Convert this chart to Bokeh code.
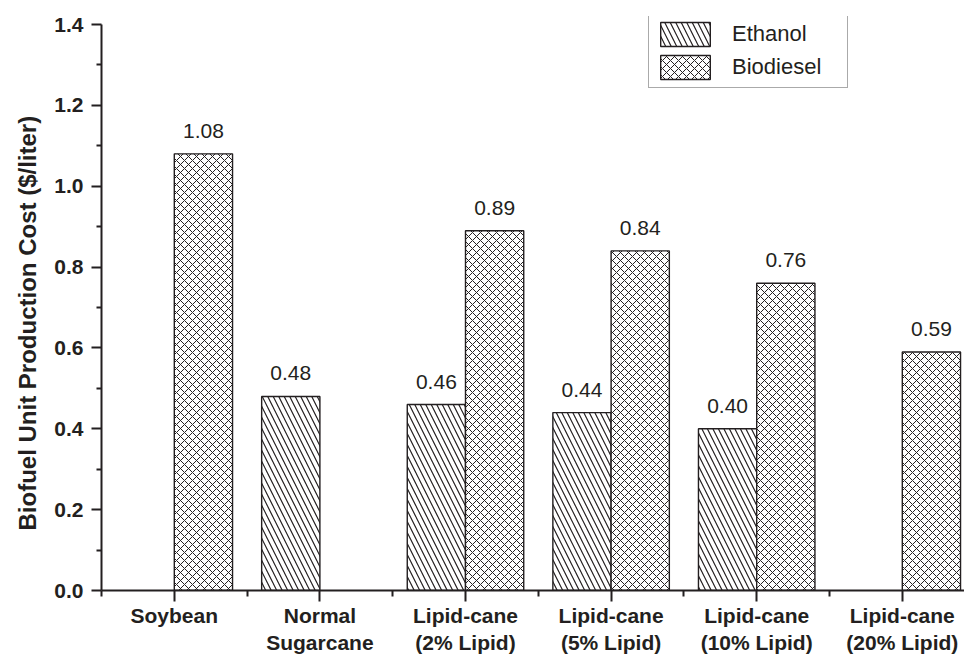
from bokeh.plotting import figure
from bokeh.models import FixedTicker, Legend, LegendItem, ColumnDataSource, Range1d, Title
from bokeh.embed import file_html
from bokeh.resources import INLINE
from bokeh.core.properties import value

categories = ["Soybean", "Normal\nSugarcane", "Lipid-cane\n(2% Lipid)", "Lipid-cane\n(5% Lipid)",
              "Lipid-cane\n(10% Lipid)", "Lipid-cane\n(20% Lipid)"]
ethanol = [None, 0.48, 0.46, 0.44, 0.40, None]
biodiesel = [1.08, None, 0.89, 0.84, 0.76, 0.59]
y_ticks = [0.0, 0.2, 0.4, 0.6, 0.8, 1.0, 1.2, 1.4]
y_tick_labels = ["0.0", "0.2", "0.4", "0.6", "0.8", "1.0", "1.2", "1.4"]
y_label = "Biofuel Unit Production Cost ($/liter)"

FONT = "Liberation Sans"
INK = "#231f20"

W, H = 964, 657
LEFT, TOP, BOTTOM = 101, 16, 67
p = figure(width=W, height=H, output_backend="svg", toolbar_location=None,
           min_border_left=LEFT, min_border_right=0, min_border_top=TOP, min_border_bottom=BOTTOM)
frame_w = W - LEFT
frame_h = H - TOP - BOTTOM
px_per_cat = 145.6
px_per_unit = 566 / 1.4
p.x_range = Range1d(-0.5, -0.5 + frame_w / px_per_cat)
p.y_range = Range1d(0, frame_h / px_per_unit)
p.outline_line_color = None
p.grid.visible = False
p.background_fill_color = "white"
p.border_fill_color = "white"

eth_idx = [i for i, v in enumerate(ethanol) if v is not None]
bio_idx = [i for i, v in enumerate(biodiesel) if v is not None]
eth_src = ColumnDataSource(dict(x=[i - 0.2 for i in eth_idx], top=[ethanol[i] for i in eth_idx],
                                lab=["%.2f" % ethanol[i] for i in eth_idx]))
bio_src = ColumnDataSource(dict(x=[i + 0.2 for i in bio_idx], top=[biodiesel[i] for i in bio_idx],
                                lab=["%.2f" % biodiesel[i] for i in bio_idx]))

r_eth = p.vbar(x="x", top="top", width=0.4, bottom=0, source=eth_src, fill_color="white",
               line_color=INK, line_width=1.4, hatch_pattern="left_diagonal_line",
               hatch_color=INK, hatch_scale=11, hatch_weight=1.2)
r_bio = p.vbar(x="x", top="top", width=0.4, bottom=0, source=bio_src, fill_color="white",
               line_color=INK, line_width=1.4, hatch_pattern="diagonal_cross",
               hatch_color=INK, hatch_scale=8, hatch_weight=1.0)

for src in (eth_src, bio_src):
    p.text(x="x", y="top", text="lab", source=src, text_align="center", text_baseline="bottom",
           y_offset=-16, text_font=value(FONT), text_font_size="21px", text_color=INK)

# axes
xa = p.xaxis[0]
xa.ticker = FixedTicker(ticks=list(range(len(categories))),
                        minor_ticks=[i - 0.5 for i in range(len(categories) + 1)])
xa.major_label_overrides = {i: c for i, c in enumerate(categories)}
xa.major_label_text_font = FONT
xa.major_label_text_font_style = "bold"
xa.major_label_text_font_size = "21px"
xa.major_label_text_color = INK
xa.major_label_standoff = 2
xa.major_tick_in = 0
xa.major_tick_out = 11
xa.minor_tick_in = 0
xa.minor_tick_out = 6
xa.axis_line_width = 2
xa.major_tick_line_width = 2
xa.minor_tick_line_width = 2
xa.axis_line_color = INK
xa.major_tick_line_color = INK
xa.minor_tick_line_color = INK

ya = p.yaxis[0]
ya.bounds = (0, 1.4)
ya.ticker = FixedTicker(ticks=y_ticks, minor_ticks=[0.1, 0.3, 0.5, 0.7, 0.9, 1.1, 1.3])
ya.major_label_overrides = {t: l for t, l in zip(y_ticks, y_tick_labels)}
ya.major_label_text_font = FONT
ya.major_label_text_font_style = "bold"
ya.major_label_text_font_size = "21px"
ya.major_label_text_color = INK
ya.major_label_standoff = 8
ya.major_tick_in = 0
ya.major_tick_out = 10
ya.minor_tick_in = 0
ya.minor_tick_out = 5
ya.axis_line_width = 2
ya.major_tick_line_width = 2
ya.minor_tick_line_width = 2
ya.axis_line_color = INK
ya.major_tick_line_color = INK
ya.minor_tick_line_color = INK

ytitle = Title(text=y_label, align="left", offset=60, standoff=21,
               text_font=FONT, text_font_style="bold", text_font_size="24px", text_color=INK)
p.add_layout(ytitle, "left")

legend = Legend(items=[LegendItem(label="Ethanol", renderers=[r_eth]),
                       LegendItem(label="Biodiesel", renderers=[r_bio])],
                location=(547, 502), orientation="vertical")
legend.glyph_width = 62
legend.glyph_height = 30
legend.spacing = 3
legend.padding = 5
legend.margin = 0
legend.label_standoff = 16
legend.label_width = 110
legend.label_text_font = FONT
legend.label_text_font_size = "22px"
legend.label_text_color = INK
legend.border_line_color = "#555555"
legend.border_line_width = 1
legend.background_fill_color = "white"
legend.background_fill_alpha = 1
p.add_layout(legend, "center")

open("out.html", "w").write(file_html(p, INLINE))
